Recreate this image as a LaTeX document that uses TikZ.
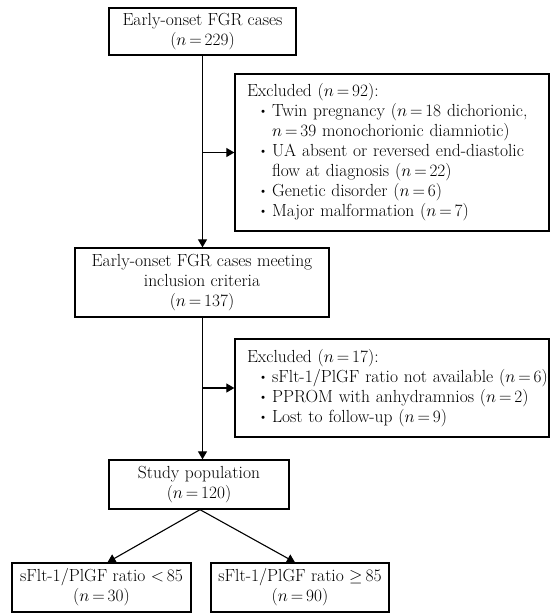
\documentclass[tikz,border=0pt]{standalone}
\usepackage{graphicx}
\usetikzlibrary{arrows.meta,calc}
\newcommand{\nn}[1]{$n\,{=}\,#1$}
\newcommand{\smbul}{\raisebox{0.15ex}{\scalebox{0.8}{\textbullet}}}
\newcommand{\bul}{\hspace*{11pt}\smbul\hspace{4pt}}
\newcommand{\cont}{\hspace*{11pt}\phantom{\smbul}\hspace{4pt}}
\begin{document}
\begin{tikzpicture}[x=1pt,y=-1pt,
  box/.style={draw, line width=1.3pt, inner sep=0pt, align=center,
    font=\fontsize{17.5}{20}\selectfont},
  exbox/.style={box, align=left, inner xsep=12pt, text width=290pt},
  arr/.style={line width=1.1pt, -{Triangle[length=8pt,width=9pt]}}]
\useasboundingbox (0,0) rectangle (551,613);

\node[box, minimum width=187pt, minimum height=47pt] (b1) at (202.5,31.5)
  {Early-onset FGR cases\\(\nn{229})};

\node[exbox, minimum height=157pt] (b2) at (392,152.5)
  {Excluded (\nn{92}):\\
   \mbox{\bul Twin pregnancy (\nn{18} dichorionic,}\\
   \mbox{\cont \nn{39} monochorionic diamniotic)}\\
   \mbox{\bul UA absent or reversed end-diastolic}\\
   \mbox{\cont flow at diagnosis (\nn{22})}\\
   \mbox{\bul Genetic disorder (\nn{6})}\\
   \mbox{\bul Major malformation (\nn{7})}};

\node[box, minimum width=254pt, minimum height=69pt] (b3) at (202,282.5)
  {Early-onset FGR cases meeting\\inclusion criteria\\(\nn{137})};

\node[exbox, minimum height=98pt] (b4) at (392,388)
  {Excluded (\nn{17}):\\
   \mbox{\bul sFlt-1/PlGF ratio not available (\nn{6})}\\
   \mbox{\bul PPROM with anhydramnios (\nn{2})}\\
   \mbox{\bul Lost to follow-up (\nn{9})}};

\node[box, minimum width=180pt, minimum height=49pt] (b5) at (199,484.5)
  {Study population\\(\nn{120})};

\node[box, minimum width=179pt, minimum height=49pt] (b6) at (101.5,587.5)
  {sFlt-1/PlGF ratio $<$\,85\\(\nn{30})};

\node[box, minimum width=178pt, minimum height=49pt] (b7) at (300,587.5)
  {sFlt-1/PlGF ratio $\geq$\,85\\(\nn{90})};

\draw[arr] (b1.south) -- (b1.south |- b3.north);
\draw[arr] (b1.south |- b2.west) -- (b2.west);
\draw[arr] (b1.south |- b3.south) -- (b1.south |- b5.north);
\draw[arr] (b1.south |- b4.west) -- (b4.west);
\coordinate (s) at ($(b5.south)+(1,0)$);
\draw[arr] (s) -- ($(b6.north)+(6,0)$);
\draw[arr] (s) -- ($(b7.north)+(-5,0)$);
\end{tikzpicture}
\end{document}
